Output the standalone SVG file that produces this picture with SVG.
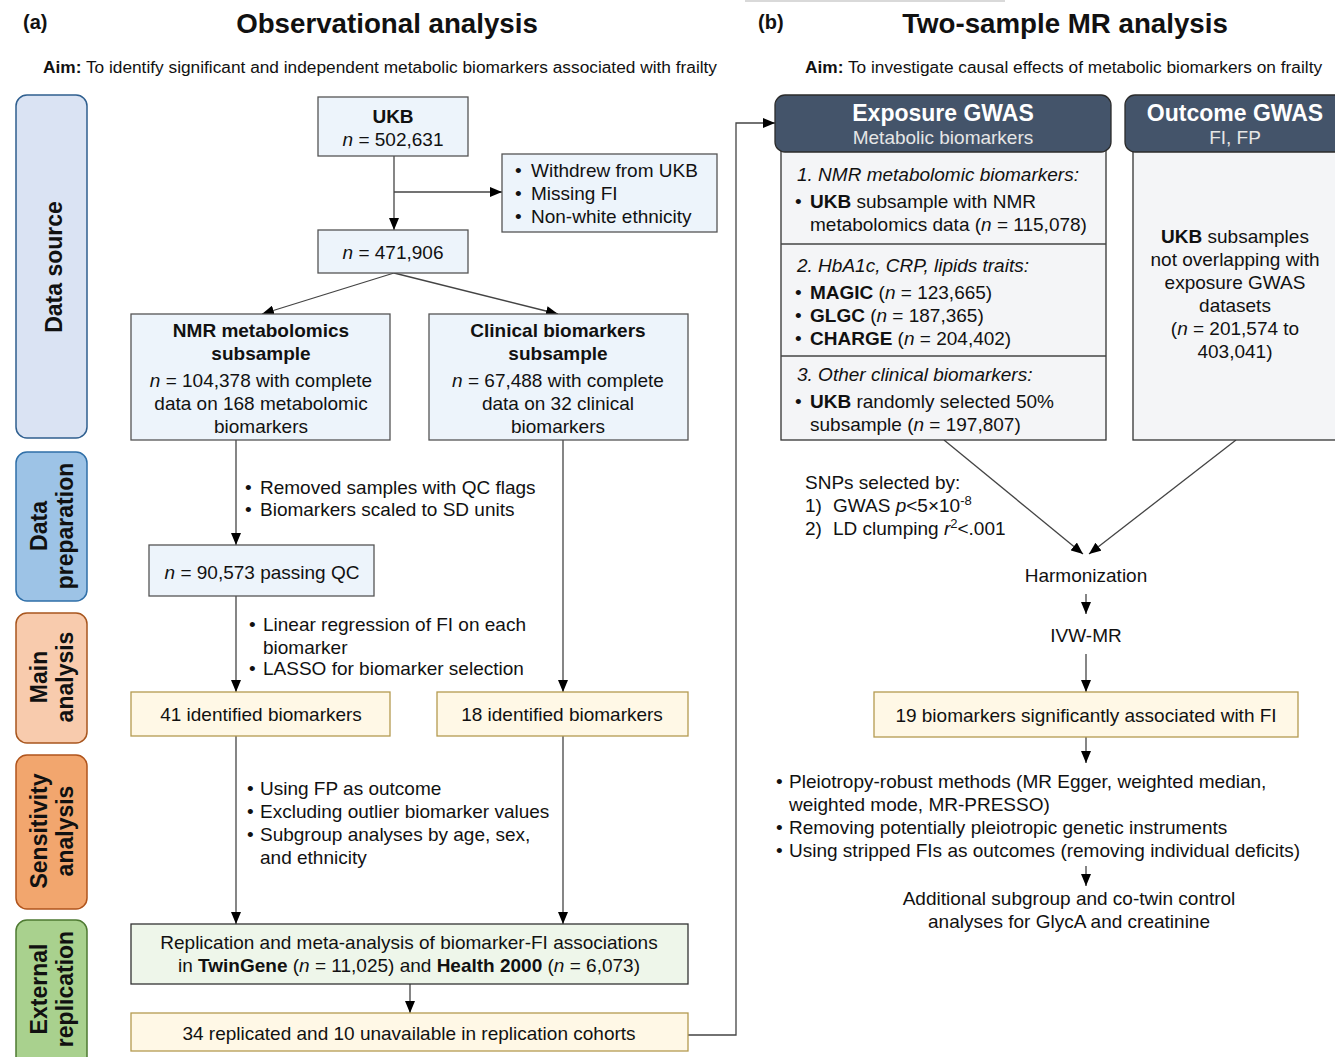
<svg xmlns="http://www.w3.org/2000/svg" width="1335" height="1057" viewBox="0 0 1335 1057">
<defs>
<marker id="ah" viewBox="0 0 12 10" refX="12" refY="5" markerWidth="12" markerHeight="10" markerUnits="userSpaceOnUse" orient="auto">
<path d="M0,0 L12,5 L0,10 z" fill="#000"/>
</marker>
<style>
text{font-family:"Liberation Sans",Arial,sans-serif;fill:#111;}
.t{font-size:19px;}
.c{text-anchor:middle;}
.b{font-weight:bold;}
.i{font-style:italic;}
.side{font-size:23px;font-weight:bold;text-anchor:middle;}
.blue{fill:#edf4fb;stroke:#555;stroke-width:1.3;}
.yel{fill:#fff8e6;stroke:#b49a50;stroke-width:1.3;}
.grn{fill:#eef6ea;stroke:#333;stroke-width:1.3;}
.gry{fill:#f4f5f7;stroke:#333;stroke-width:1.3;}
.hdr{fill:#44546a;stroke:#2b2b2b;stroke-width:1.3;}
.ln{fill:none;stroke:#444;stroke-width:1.3;}
.arr{fill:none;stroke:#444;stroke-width:1.3;marker-end:url(#ah);}
</style>
</defs>
<rect x="0" y="0" width="1335" height="1057" fill="#fff"/>
<rect x="745" y="0" width="260" height="2" fill="#d9d9d9"/>

<g id="titles">
<text x="23" y="29" font-size="20" class="b">(a)</text>
<text x="387" y="33" font-size="27.7" class="b c">Observational analysis</text>
<text x="758" y="29" font-size="20" class="b">(b)</text>
<text x="1065" y="33" font-size="27.7" class="b c">Two-sample MR analysis</text>
<text x="43" y="73" font-size="17.3"><tspan class="b">Aim:</tspan> To identify significant and independent metabolic biomarkers associated with frailty</text>
<text x="805" y="73" font-size="17.3"><tspan class="b">Aim:</tspan> To investigate causal effects of metabolic biomarkers on frailty</text>
</g>

<g id="side-data-source">
<rect x="16" y="95" width="71" height="343" rx="11" fill="#dae3f3" stroke="#2f5f8f" stroke-width="1.5"/>
<text class="side" transform="translate(62,267) rotate(-90)">Data source</text>
</g>
<g id="side-data-preparation">
<rect x="16" y="452" width="71" height="149" rx="11" fill="#9dc3e6" stroke="#2f6fa8" stroke-width="1.5"/>
<text class="side" transform="translate(47,526) rotate(-90)">Data</text>
<text class="side" transform="translate(73,526) rotate(-90)">preparation</text>
</g>
<g id="side-main-analysis">
<rect x="16" y="613" width="71" height="130" rx="11" fill="#f8cbad" stroke="#a8561e" stroke-width="1.5"/>
<text class="side" transform="translate(47,677) rotate(-90)">Main</text>
<text class="side" transform="translate(73,677) rotate(-90)">analysis</text>
</g>
<g id="side-sensitivity-analysis">
<rect x="16" y="755" width="71" height="154" rx="11" fill="#f2a66e" stroke="#b0541c" stroke-width="1.5"/>
<text class="side" transform="translate(47,831) rotate(-90)">Sensitivity</text>
<text class="side" transform="translate(73,831) rotate(-90)">analysis</text>
</g>
<g id="side-external-replication">
<rect x="16" y="920" width="71" height="160" rx="11" fill="#a9d18e" stroke="#4e7a32" stroke-width="1.5"/>
<text class="side" transform="translate(47,989) rotate(-90)">External</text>
<text class="side" transform="translate(73,989) rotate(-90)">replication</text>
</g>

<g id="connectors">
<line class="arr" x1="394" y1="156" x2="394" y2="230"/>
<line class="arr" x1="394" y1="192" x2="502" y2="192"/>
<line class="arr" x1="394" y1="273" x2="262" y2="314"/>
<line class="arr" x1="394" y1="273" x2="558" y2="314"/>
<line class="arr" x1="236" y1="440" x2="236" y2="545"/>
<line class="arr" x1="236" y1="596" x2="236" y2="692"/>
<line class="arr" x1="563" y1="440" x2="563" y2="692"/>
<line class="arr" x1="236" y1="736" x2="236" y2="924"/>
<line class="arr" x1="563" y1="736" x2="563" y2="924"/>
<line class="arr" x1="410" y1="984" x2="410" y2="1013"/>
<polyline class="arr" points="688,1035 736,1035 736,123 775,123"/>
<line class="arr" x1="944" y1="440" x2="1083" y2="554"/>
<line class="arr" x1="1236" y1="440" x2="1089" y2="554"/>
<line class="arr" x1="1086" y1="594" x2="1086" y2="614"/>
<line class="arr" x1="1086" y1="654" x2="1086" y2="692"/>
<line class="arr" x1="1086" y1="737" x2="1086" y2="763"/>
<line class="arr" x1="1086" y1="866" x2="1086" y2="886"/>
</g>

<g id="node-ukb">
<rect class="blue" x="318" y="97" width="150" height="59"/>
<text class="t c b" x="393" y="123">UKB</text>
<text class="t c" x="393" y="146"><tspan class="i">n</tspan> = 502,631</text>
</g>
<g id="node-exclusions">
<rect class="blue" x="502" y="154" width="215" height="78"/>
<text class="t" x="515" y="177">•</text><text class="t" x="531" y="177">Withdrew from UKB</text>
<text class="t" x="515" y="200">•</text><text class="t" x="531" y="200">Missing FI</text>
<text class="t" x="515" y="223">•</text><text class="t" x="531" y="223">Non-white ethnicity</text>
</g>
<g id="node-471906">
<rect class="blue" x="318" y="230" width="150" height="43"/>
<text class="t c" x="393" y="259"><tspan class="i">n</tspan> = 471,906</text>
</g>
<g id="node-nmr">
<rect class="blue" x="131" y="314" width="259" height="126"/>
<text class="t c b" x="261" y="337">NMR metabolomics</text>
<text class="t c b" x="261" y="360">subsample</text>
<text class="t c" x="261" y="387"><tspan class="i">n</tspan> = 104,378 with complete</text>
<text class="t c" x="261" y="410">data on 168 metabolomic</text>
<text class="t c" x="261" y="433">biomarkers</text>
</g>
<g id="node-clinical">
<rect class="blue" x="429" y="314" width="259" height="126"/>
<text class="t c b" x="558" y="337">Clinical biomarkers</text>
<text class="t c b" x="558" y="360">subsample</text>
<text class="t c" x="558" y="387"><tspan class="i">n</tspan> = 67,488 with complete</text>
<text class="t c" x="558" y="410">data on 32 clinical</text>
<text class="t c" x="558" y="433">biomarkers</text>
</g>
<g id="label-qc">
<text class="t" x="245" y="494">•</text><text class="t" x="260" y="494">Removed samples with QC flags</text>
<text class="t" x="245" y="516">•</text><text class="t" x="260" y="516">Biomarkers scaled to SD units</text>
</g>
<g id="node-qc">
<rect class="blue" x="149" y="545" width="225" height="51"/>
<text class="t c" x="262" y="579"><tspan class="i">n</tspan> = 90,573 passing QC</text>
</g>
<g id="label-main">
<text class="t" x="249" y="631">•</text><text class="t" x="263" y="631">Linear regression of FI on each</text>
<text class="t" x="263" y="654">biomarker</text>
<text class="t" x="249" y="675">•</text><text class="t" x="263" y="675">LASSO for biomarker selection</text>
</g>
<g id="node-41">
<rect class="yel" x="131" y="692" width="259" height="44"/>
<text class="t c" x="261" y="721">41 identified biomarkers</text>
</g>
<g id="node-18">
<rect class="yel" x="437" y="692" width="251" height="44"/>
<text class="t c" x="562" y="721">18 identified biomarkers</text>
</g>
<g id="label-sensitivity">
<text class="t" x="247" y="795">•</text><text class="t" x="260" y="795">Using FP as outcome</text>
<text class="t" x="247" y="818">•</text><text class="t" x="260" y="818">Excluding outlier biomarker values</text>
<text class="t" x="247" y="841">•</text><text class="t" x="260" y="841">Subgroup analyses by age, sex,</text>
<text class="t" x="260" y="864">and ethnicity</text>
</g>
<g id="node-replication">
<rect class="grn" x="131" y="924" width="557" height="60"/>
<text class="t c" x="409" y="949">Replication and meta-analysis of biomarker-FI associations</text>
<text class="t c" x="409" y="972">in <tspan class="b">TwinGene</tspan> (<tspan class="i">n</tspan> = 11,025) and <tspan class="b">Health 2000</tspan> (<tspan class="i">n</tspan> = 6,073)</text>
</g>
<g id="node-34">
<rect class="yel" x="131" y="1013" width="557" height="38"/>
<text class="t c" x="409" y="1040">34 replicated and 10 unavailable in replication cohorts</text>
</g>

<g id="node-exposure">
<rect class="gry" x="781" y="150" width="325" height="290"/>
<line class="ln" x1="781" y1="244" x2="1106" y2="244" stroke="#333"/>
<line class="ln" x1="781" y1="356" x2="1106" y2="356" stroke="#333"/>
<rect class="hdr" x="775" y="95" width="336" height="57" rx="10"/>
<text class="c b" x="943" y="121" font-size="23" style="fill:#fff">Exposure GWAS</text>
<text class="c" x="943" y="144" font-size="19" style="fill:#e6e6e6">Metabolic biomarkers</text>
<text class="t i" x="797" y="181">1. NMR metabolomic biomarkers:</text>
<text class="t" x="795" y="208">•</text><text class="t" x="810" y="208"><tspan class="b">UKB</tspan> subsample with NMR</text>
<text class="t" x="810" y="231">metabolomics data (<tspan class="i">n</tspan> = 115,078)</text>
<text class="t i" x="797" y="272">2. HbA1c, CRP, lipids traits:</text>
<text class="t" x="795" y="299">•</text><text class="t" x="810" y="299"><tspan class="b">MAGIC</tspan> (<tspan class="i">n</tspan> = 123,665)</text>
<text class="t" x="795" y="322">•</text><text class="t" x="810" y="322"><tspan class="b">GLGC</tspan> (<tspan class="i">n</tspan> = 187,365)</text>
<text class="t" x="795" y="345">•</text><text class="t" x="810" y="345"><tspan class="b">CHARGE</tspan> (<tspan class="i">n</tspan> = 204,402)</text>
<text class="t i" x="797" y="381">3. Other clinical biomarkers:</text>
<text class="t" x="795" y="408">•</text><text class="t" x="810" y="408"><tspan class="b">UKB</tspan> randomly selected 50%</text>
<text class="t" x="810" y="431">subsample (<tspan class="i">n</tspan> = 197,807)</text>
</g>
<g id="node-outcome">
<rect class="gry" x="1133" y="150" width="215" height="290"/>
<rect class="hdr" x="1125" y="95" width="225" height="57" rx="10"/>
<text class="c b" x="1235" y="121" font-size="23" style="fill:#fff">Outcome GWAS</text>
<text class="c" x="1235" y="144" font-size="19" style="fill:#e6e6e6">FI, FP</text>
<text class="t c" x="1235" y="243"><tspan class="b">UKB</tspan> subsamples</text>
<text class="t c" x="1235" y="266">not overlapping with</text>
<text class="t c" x="1235" y="289">exposure GWAS</text>
<text class="t c" x="1235" y="312">datasets</text>
<text class="t c" x="1235" y="335">(<tspan class="i">n</tspan> = 201,574 to</text>
<text class="t c" x="1235" y="358">403,041)</text>
</g>
<g id="label-snps">
<text class="t" x="805" y="489">SNPs selected by:</text>
<text class="t" x="805" y="512">1)</text><text class="t" x="833" y="512">GWAS <tspan class="i">p</tspan>&lt;5×10<tspan font-size="13" dy="-7">-8</tspan></text>
<text class="t" x="805" y="535">2)</text><text class="t" x="833" y="535">LD clumping <tspan class="i">r</tspan><tspan font-size="13" dy="-7">2</tspan><tspan dy="7">&lt;.001</tspan></text>
</g>
<g id="node-harmonization">
<text class="t c" x="1086" y="582">Harmonization</text>
</g>
<g id="node-ivw">
<text class="t c" x="1086" y="642">IVW-MR</text>
</g>
<g id="node-19">
<rect class="yel" x="874" y="692" width="424" height="45"/>
<text class="t c" x="1086" y="722">19 biomarkers significantly associated with FI</text>
</g>
<g id="label-mr-sensitivity">
<text class="t" x="776" y="788">•</text><text class="t" x="789" y="788">Pleiotropy-robust methods (MR Egger, weighted median,</text>
<text class="t" x="789" y="811">weighted mode, MR-PRESSO)</text>
<text class="t" x="776" y="834">•</text><text class="t" x="789" y="834">Removing potentially pleiotropic genetic instruments</text>
<text class="t" x="776" y="857">•</text><text class="t" x="789" y="857">Using stripped FIs as outcomes (removing individual deficits)</text>
</g>
<g id="node-additional">
<text class="t c" x="1069" y="905">Additional subgroup and co-twin control</text>
<text class="t c" x="1069" y="928">analyses for GlycA and creatinine</text>
</g>
</svg>
